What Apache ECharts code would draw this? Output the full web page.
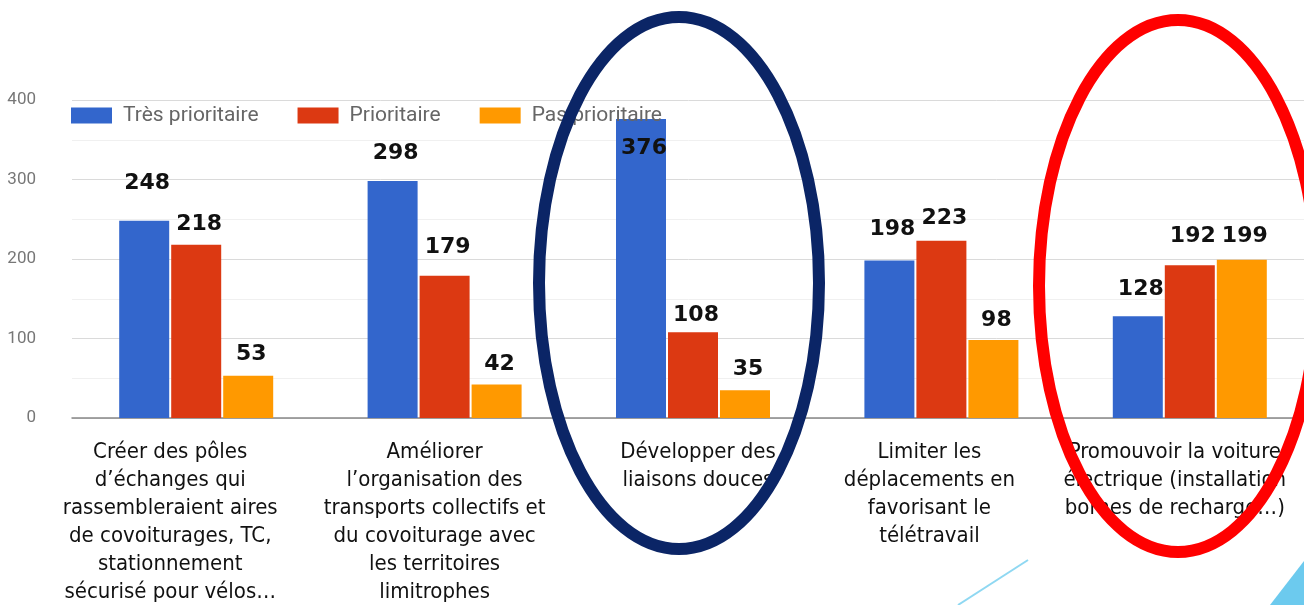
<!DOCTYPE html>
<html>
<head>
<meta charset="utf-8">
<script src="https://cdn.jsdelivr.net/npm/echarts@6/dist/echarts.min.js"></script>
<style>
  html, body { margin: 0; padding: 0; background: #fff; }
  #chart { width: 1304px; height: 605px; }
</style>
</head>
<body>
<div id="chart"></div>
<script>
const categories = [
    'Créer des pôles\nd’échanges qui\nrassembleraient aires\nde covoiturages, TC,\nstationnement\nsécurisé pour vélos…',
    'Améliorer\nl’organisation des\ntransports collectifs et\ndu covoiturage avec\nles territoires\nlimitrophes',
    'Développer des\nliaisons douces',
    'Limiter les\ndéplacements en\nfavorisant le\ntélétravail',
    'Promouvoir la voiture\nélectrique (installation\nbornes de recharge…)'
]
const seriesNames = ['Très prioritaire', 'Prioritaire', 'Pas prioritaire']
const tresPrioritaire = [248, 298, 376, 198, 128]
const prioritaire = [218, 179, 108, 223, 192]
const pasPrioritaire = [53, 42, 35, 98, 199]
const yTicks = [0, 100, 200, 300, 400]

// label gap above each bar (the slide's labels are placed by hand)
const labelGap = [
    [27, 17, 18, 20, 16],
    [9, 17, 6, 11, 18],
    [11, 9, 10, 9, 13]
]
// category text boxes sit a bit left of the bar groups
const labelShift = [26, 10, -5, 12, 15]

const colors = ['#3366cc', '#dc3912', '#ff9900']

const chart = echarts.init(document.getElementById('chart'))

const rich = {}
labelShift.forEach((dx, i) => {
    rich['c' + i] = {
        fontFamily: "'Liberation Sans Narrow', 'DejaVu Sans Condensed', sans-serif",
        fontSize: 22,
        lineHeight: 28,
        color: '#111',
        padding: dx >= 0 ? [0, 2 * dx, 0, 0] : [0, 0, 0, -2 * dx]
    }
})

function makeSeries(values, idx) {
    return {
        name: seriesNames[idx],
        type: 'bar',
        barWidth: 50,
        barGap: '4%',
        itemStyle: { color: colors[idx] },
        data: values.map((v, i) => {
            const inside = idx === 0 && i === 2
            return {
                value: v,
                label: {
                    show: true,
                    position: inside ? 'insideTop' : 'top',
                    distance: labelGap[idx][i],
                    offset: [3, 0]
                }
            }
        }),
        label: {
            color: '#111',
            fontFamily: 'DejaVu Sans',
            fontWeight: 'bold',
            fontSize: 22
        }
    }
}

chart.setOption({
    animation: false,
    backgroundColor: '#fff',
    grid: {
        left: 72, top: 100, width: 1242, bottom: 187,
        containLabel: false,
        outerBoundsMode: 'none'
    },
    legend: {
        left: 71,
        top: 105,
        padding: 0,
        itemWidth: 41,
        itemHeight: 16,
        itemGap: 39,
        icon: 'rect',
        textStyle: {
            color: '#666',
            fontFamily: 'Roboto',
            fontSize: 21,
            padding: [0, 0, 0, 6]
        },
        data: seriesNames
    },
    xAxis: {
        type: 'category',
        data: categories,
        axisTick: { show: false },
        axisLine: { lineStyle: { color: '#888', width: 1.5 } },
        axisLabel: {
            interval: 0,
            margin: 20,
            formatter: (val, i) => val.split('\n').map(s => '{c' + i + '|' + s + '}').join('\n'),
            rich: rich
        }
    },
    yAxis: {
        type: 'value',
        min: yTicks[0],
        max: yTicks[yTicks.length - 1],
        interval: 100,
        axisLabel: {
            color: '#777',
            fontFamily: 'Roboto',
            fontSize: 17,
            margin: 36
        },
        splitLine: { lineStyle: { color: '#dadada' } },
        minorTick: { show: false, splitNumber: 2 },
        minorSplitLine: { show: true, lineStyle: { color: '#f0f0f0' } }
    },
    series: [
        makeSeries(tresPrioritaire, 0),
        makeSeries(prioritaire, 1),
        makeSeries(pasPrioritaire, 2)
    ],
    graphic: [
        {
            type: 'ellipse',
            shape: { cx: 679, cy: 283, rx: 140, ry: 266 },
            style: { fill: null, stroke: '#0b2566', lineWidth: 12 },
            z: 100
        },
        {
            type: 'ellipse',
            shape: { cx: 1178, cy: 286, rx: 139, ry: 266 },
            style: { fill: null, stroke: '#ff0000', lineWidth: 12 },
            z: 100
        },
        {
            type: 'line',
            shape: { x1: 958, y1: 605, x2: 1028, y2: 560 },
            style: { stroke: '#8fd8f2', lineWidth: 2 },
            z: 100
        },
        {
            type: 'polygon',
            shape: { points: [[1270, 605], [1304, 561], [1304, 605]] },
            style: { fill: '#6ccaee' },
            z: 100
        }
    ]
})
</script>
</body>
</html>
